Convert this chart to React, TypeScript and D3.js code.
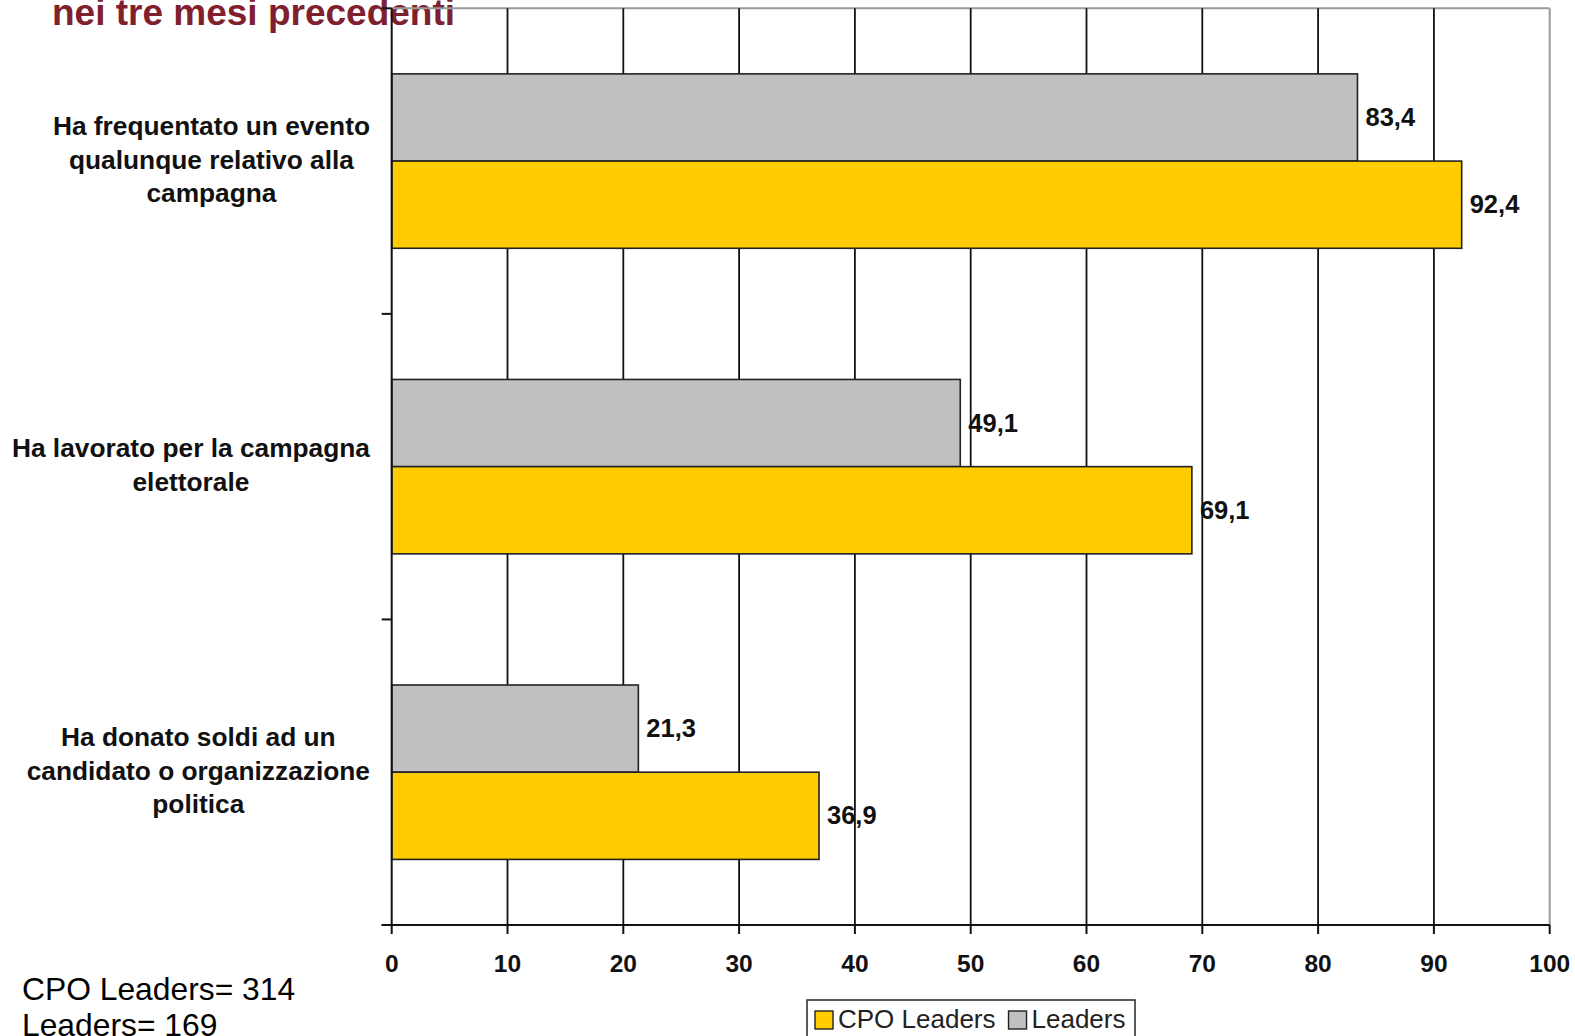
import React, { useEffect, useRef } from "react";
import * as d3 from "d3";

const categories: string[][] = [
  ["Ha frequentato un evento", "qualunque relativo alla", "campagna"],
  ["Ha lavorato per la campagna", "elettorale"],
  ["Ha donato soldi ad un", "candidato o organizzazione", "politica"],
];
const seriesNames = ["Leaders", "CPO Leaders"];
const leadersValues = [83.4, 49.1, 21.3];
const cpoValues = [92.4, 69.1, 36.9];
const xTicks = [0, 10, 20, 30, 40, 50, 60, 70, 80, 90, 100];
const legendItems = ["CPO Leaders", "Leaders"];
const titleText = "nei tre mesi precedenti";
const noteLines = ["CPO Leaders= 314", "Leaders= 169"];

const W = 1575;
const H = 1036;
const FONT = "'Liberation Sans', Arial, Helvetica, sans-serif";
const COLORS: Record<string, string> = { "CPO Leaders": "#FFCC00", Leaders: "#C0C0C0" };

export default function App() {
  const ref = useRef<SVGSVGElement>(null);

  useEffect(() => {
    const svg = d3.select(ref.current);
    svg.selectAll("*").remove();

    const left = 391.7, right = 1549.7, top = 8.3, bottom = 925;
    const x = d3.scaleLinear().domain([0, 100]).range([left, right]);
    const y = d3.scaleBand<number>().domain(d3.range(categories.length)).range([top, bottom]).padding(0);
    const inner = d3.scaleBand<string>().domain(seriesNames).range([0, y.bandwidth()]).paddingInner(0).paddingOuter(0.752);

    const rows = categories.map((c, i) => ({ i, lines: c, Leaders: leadersValues[i], "CPO Leaders": cpoValues[i] }));

    // Title
    svg.append("text").attr("x", 52).attr("y", 25).attr("font-family", FONT).attr("font-weight", "bold")
      .attr("font-size", 37).attr("fill", "#80202F").text(titleText);

    // Category labels
    rows.forEach((r) => {
      const g = svg.append("g");
      const n = r.lines.length;
      const cy = (y(r.i) as number) + y.bandwidth() / 2;
      const lh = 33.5;
      const texts = r.lines.map((ln, k) =>
        g.append("text").attr("font-family", FONT).attr("font-weight", "bold").attr("font-size", 26.3)
          .attr("fill", "#111").attr("text-anchor", "middle")
          .attr("y", cy + (k - (n - 1) / 2) * lh + 7.5).text(ln)
      );
      let maxW = 0;
      texts.forEach((t) => { maxW = Math.max(maxW, (t.node() as SVGTextElement).getComputedTextLength()); });
      texts.forEach((t) => t.attr("x", 370 - maxW / 2));
    });

    // Value labels (drawn before gridlines)
    rows.forEach((r) => {
      seriesNames.forEach((s) => {
        const v = (r as any)[s] as number;
        svg.append("text").attr("font-family", FONT).attr("font-weight", "bold").attr("font-size", 25.5)
          .attr("fill", "#111")
          .attr("x", x(v) + 8)
          .attr("y", (y(r.i) as number) + (inner(s) as number) + inner.bandwidth() / 2 + 8.5)
          .text(String(v).replace(".", ","));
      });
    });

    // Plot border (top and right)
    svg.append("line").attr("x1", left).attr("x2", right).attr("y1", top).attr("y2", top)
      .attr("stroke", "#9a9a9a").attr("stroke-width", 2);
    svg.append("line").attr("x1", right).attr("x2", right).attr("y1", top).attr("y2", bottom)
      .attr("stroke", "#9a9a9a").attr("stroke-width", 2);

    // Gridlines
    svg.append("g").selectAll("line").data(xTicks.filter((t) => t > 0 && t < 100)).join("line")
      .attr("x1", (d) => x(d)).attr("x2", (d) => x(d)).attr("y1", top).attr("y2", bottom)
      .attr("stroke", "#111").attr("stroke-width", 1.8);

    // Bars
    rows.forEach((r) => {
      seriesNames.forEach((s) => {
        const v = (r as any)[s] as number;
        svg.append("rect")
          .attr("x", x(0)).attr("y", (y(r.i) as number) + (inner(s) as number))
          .attr("width", x(v) - x(0)).attr("height", inner.bandwidth())
          .attr("fill", COLORS[s]).attr("stroke", "#222").attr("stroke-width", 1.6);
      });
    });

    // Axes
    svg.append("line").attr("x1", left).attr("x2", left).attr("y1", top).attr("y2", bottom)
      .attr("stroke", "#111").attr("stroke-width", 2);
    svg.append("line").attr("x1", left - 10).attr("x2", right).attr("y1", bottom).attr("y2", bottom)
      .attr("stroke", "#111").attr("stroke-width", 2);
    // y ticks at category boundaries
    svg.append("g").selectAll("line").data(d3.range(categories.length + 1)).join("line")
      .attr("x1", left - 10).attr("x2", left)
      .attr("y1", (d) => top + d * y.step()).attr("y2", (d) => top + d * y.step())
      .attr("stroke", "#111").attr("stroke-width", 2);
    // x ticks
    svg.append("g").selectAll("line").data(xTicks).join("line")
      .attr("x1", (d) => x(d)).attr("x2", (d) => x(d)).attr("y1", bottom).attr("y2", bottom + 9)
      .attr("stroke", "#111").attr("stroke-width", 2);
    svg.append("g").selectAll("text").data(xTicks).join("text")
      .attr("x", (d) => x(d)).attr("y", 972).attr("text-anchor", "middle")
      .attr("font-family", FONT).attr("font-weight", "bold").attr("font-size", 24.5).attr("fill", "#111")
      .text((d) => String(d));

    // Notes
    noteLines.forEach((t, k) => {
      svg.append("text").attr("x", 22).attr("y", 1000 + k * 36).attr("font-family", FONT)
        .attr("font-size", 31.8).attr("fill", "#000").text(t);
    });

    // Legend
    const lg = svg.append("g");
    lg.append("rect").attr("x", 807).attr("y", 1000).attr("width", 328).attr("height", 50)
      .attr("fill", "#fff").attr("stroke", "#333").attr("stroke-width", 1.6);
    let lx = 815;
    legendItems.forEach((name) => {
      lg.append("rect").attr("x", lx).attr("y", 1011).attr("width", 18).attr("height", 18)
        .attr("fill", COLORS[name]).attr("stroke", "#222").attr("stroke-width", 1.4);
      const t = lg.append("text").attr("x", lx + 23).attr("y", 1028).attr("font-family", FONT)
        .attr("font-size", 26).attr("fill", "#222").text(name);
      lx += 23 + (t.node() as SVGTextElement).getComputedTextLength() + 13;
    });
  }, []);

  return (
    <svg ref={ref} width={W} height={H}
      style={{ position: "absolute", left: 0, top: 0, background: "#fff" }} />
  );
}
